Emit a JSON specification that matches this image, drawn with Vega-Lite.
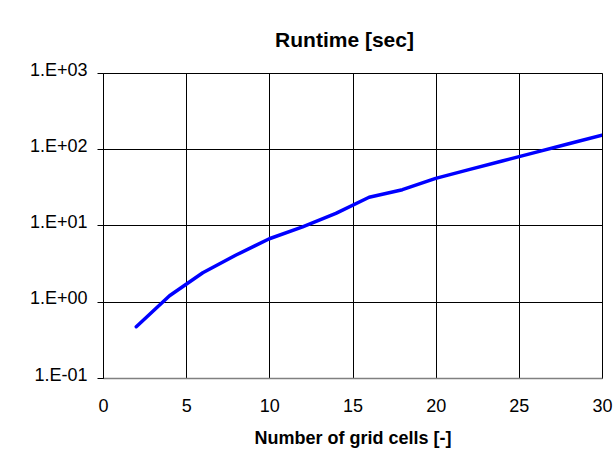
{
  "$schema": "https://vega.github.io/schema/vega-lite/v6.json",
  "autosize": "none",
  "width": 499,
  "height": 305,
  "padding": {"left": 103, "top": 73, "right": 14, "bottom": 74},
  "background": "white",
  "config": {
    "font": "Liberation Sans",
    "view": {"stroke": "#808080", "strokeWidth": 1}
  },
  "title": {
    "text": "Runtime [sec]",
    "font": "Liberation Sans",
    "fontSize": 21,
    "fontWeight": "bold",
    "color": "#000000",
    "anchor": "middle",
    "frame": "group",
    "offset": 10,
    "dx": -8
  },
  "data": {
    "values": [
      {"cells": 2, "runtime": 0.47},
      {"cells": 4, "runtime": 1.2},
      {"cells": 6, "runtime": 2.4},
      {"cells": 8, "runtime": 4.1},
      {"cells": 10, "runtime": 6.7},
      {"cells": 12, "runtime": 9.6},
      {"cells": 14, "runtime": 14.4},
      {"cells": 16, "runtime": 23.5},
      {"cells": 18, "runtime": 29.5},
      {"cells": 20, "runtime": 41.5},
      {"cells": 22, "runtime": 54},
      {"cells": 24, "runtime": 70},
      {"cells": 26, "runtime": 91},
      {"cells": 28, "runtime": 118},
      {"cells": 30, "runtime": 153}
    ]
  },
  "mark": {"type": "line", "color": "#0000FF", "strokeWidth": 3.5, "strokeCap": "round", "strokeJoin": "round", "clip": true},
  "encoding": {
    "x": {
      "field": "cells",
      "type": "quantitative",
      "scale": {"domain": [0, 30], "nice": false, "zero": false},
      "axis": {
        "values": [0, 5, 10, 15, 20, 25, 30],
        "title": "Number of grid cells [-]",
        "titleFont": "Liberation Sans",
        "titleFontSize": 18,
        "titleFontWeight": "bold",
        "titleColor": "#000000",
        "titlePadding": 14,
        "labelFont": "Liberation Sans",
        "labelFontSize": 18,
        "labelColor": "#000000",
        "labelPadding": 19,
        "ticks": false,
        "domain": true,
        "domainColor": "#808080",
        "domainWidth": 1.5,
        "grid": true,
        "gridColor": "#000000",
        "gridWidth": 1,
        "gridOpacity": 1,
        "labelFlush": false,
        "labelOverlap": false
      }
    },
    "y": {
      "field": "runtime",
      "type": "quantitative",
      "scale": {"type": "log", "domain": [0.1, 1000], "nice": false},
      "axis": {
        "values": [0.1, 1, 10, 100, 1000],
        "labelExpr": "'1.E' + (datum.value >= 1 ? '+' : '-') + format(abs(round(log(datum.value) / LN10)), '02d')",
        "title": null,
        "labelFont": "Liberation Sans",
        "labelFontSize": 18,
        "labelColor": "#000000",
        "labelPadding": 10,
        "labelBaseline": "middle",
        "labelOffset": -3,
        "ticks": true,
        "tickSize": 6,
        "tickColor": "#000000",
        "tickWidth": 1,
        "domain": true,
        "domainColor": "#000000",
        "domainWidth": 1,
        "grid": true,
        "gridColor": "#000000",
        "gridWidth": 1,
        "gridOpacity": 1,
        "labelFlush": false,
        "labelOverlap": false
      }
    }
  }
}
